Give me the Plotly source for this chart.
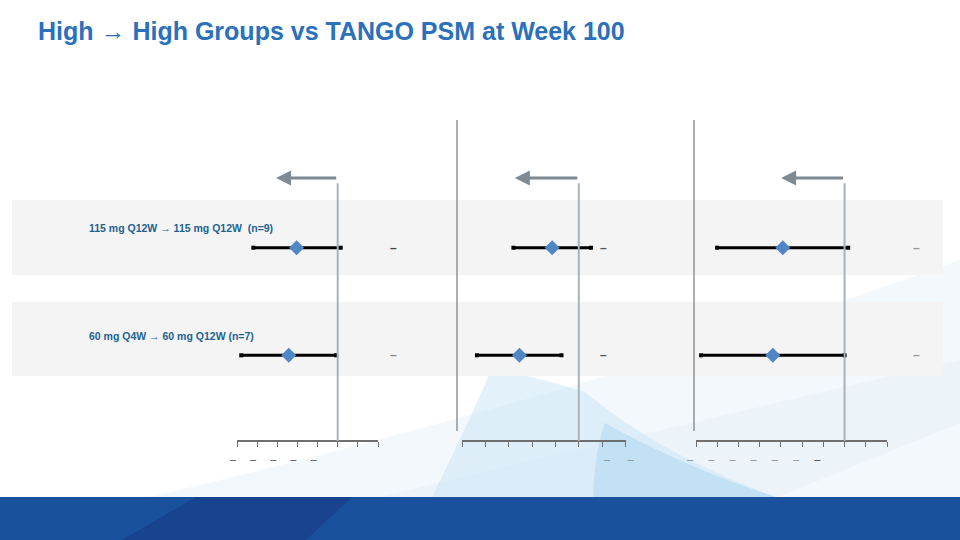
import plotly.graph_objects as go

W, H = 960, 540
def PX(x): return x / W
def PY(y): return 1 - y / H

# ---------------- data ----------------
title = "High \u2192 High Groups vs TANGO PSM at Week 100"
row_labels = ["115 mg Q12W \u2192 115 mg Q12W  (n=9)",
              "60 mg Q4W \u2192 60 mg Q12W (n=7)"]
row_pos = [0, 1]

# panel 1
p1_est = [-20.4, -24.3]
p1_lo = [-41.9, -47.9]
p1_hi = [1.5, -0.8]
# panel 2 (reversed axis)
p2_est = [5.7, 12.7]
p2_lo = [14.0, 21.8]
p2_hi = [-2.6, 3.7]
# panel 3
p3_est = [-29.1, -33.8]
p3_lo = [-60.1, -67.6]
p3_hi = [1.7, 0.0]

p1_ticks = [-50, -40, -30, -20, -10, 0, 10, 20]
p1_ticktext = ["\u2013", "\u2013", "\u2013", "\u2013", "\u2013", "", "", ""]
p2_ticks = [25, 20, 15, 10, 5, 0, -5, -10]
p2_ticktext = ["", "", "", "", "", "", "\u2013", "\u2013"]
p3_ticks = [-70, -60, -50, -40, -30, -20, -10, 0, 10, 20]
p3_ticktext = ["\u2013"] * 6 + ["<span style='color:#333'>\u2013</span>", "", "", ""]

arrow_tips = [-30.6, 13.7, -29.9]
value_text = ["\u2013", "\u2013"]

# ---------------- figure ----------------
fig = go.Figure()

panels = [
    ("x", p1_est, p1_lo, p1_hi),
    ("x2", p2_est, p2_lo, p2_hi),
    ("x3", p3_est, p3_lo, p3_hi),
]

shapes = []
def bgpath(path, color):
    shapes.append(dict(type="path", xref="paper", yref="paper", layer="below",
                       path=path, fillcolor=color, line=dict(width=0)))

def P(pts):
    return "M " + " L ".join(f"{PX(x)} {PY(y)}" for x, y in pts) + " Z"

# background wash (decorative)
bgpath(f"M {PX(150)} {PY(497)} Q {PX(600)} {PY(390)} {PX(960)} {PY(260)} "
       f"L {PX(960)} {PY(497)} Z", "rgba(232,242,250,0.5)")
bgpath(f"M {PX(380)} {PY(497)} Q {PX(700)} {PY(420)} {PX(960)} {PY(360)} "
       f"L {PX(960)} {PY(497)} Z", "rgba(226,238,248,0.4)")
bgpath(f"M {PX(432)} {PY(497)} Q {PX(470)} {PY(420)} {PX(492)} {PY(368)} "
       f"Q {PX(540)} {PY(378)} {PX(585)} {PY(392)} Q {PX(660)} {PY(455)} {PX(776)} {PY(497)} Z",
       "rgba(200,228,245,0.5)")
bgpath(f"M {PX(593)} {PY(497)} Q {PX(595)} {PY(450)} {PX(605)} {PY(423)} "
       f"Q {PX(690)} {PY(470)} {PX(776)} {PY(497)} Z",
       "rgba(170,214,240,0.5)")
bgpath(P([(778, 497), (960, 423), (960, 497)]), "rgba(243,248,252,0.9)")
# bottom band
shapes.append(dict(type="rect", xref="paper", yref="paper", layer="below",
                   x0=0, x1=1, y0=0, y1=PY(497),
                   fillcolor="#1a519c", line=dict(width=0)))
bgpath(P([(122, 540), (196, 497), (352, 497), (306, 540)]), "#17438f")
# row bands
for (t, b) in [(200, 275), (302, 376)]:
    shapes.append(dict(type="rect", xref="paper", yref="paper", layer="below",
                       x0=PX(12), x1=PX(943), y0=PY(b), y1=PY(t),
                       fillcolor="rgba(244,244,244,0.97)", line=dict(width=0)))
# panel separators
for xs in [457, 694]:
    shapes.append(dict(type="line", xref="paper", yref="paper",
                       x0=PX(xs), x1=PX(xs), y0=PY(120), y1=PY(431),
                       line=dict(color="#8e9499", width=1.5)))
# reference lines at zero
for ax, *_ in panels:
    shapes.append(dict(type="line", xref=ax, yref="y", x0=0, x1=0, y0=-0.6, y1=1.797,
                       line=dict(color="#aab1b7", width=2)))

for ax, est, lo, hi in panels:
    for i, r in enumerate(row_pos):
        fig.add_trace(go.Scatter(x=[lo[i], hi[i]], y=[r, r], xaxis=ax, yaxis="y",
                                 mode="lines+markers",
                                 line=dict(color="black", width=3),
                                 marker=dict(symbol="square", size=4, color="black"),
                                 showlegend=False, hoverinfo="skip"))
    fig.add_trace(go.Scatter(x=est, y=row_pos, xaxis=ax, yaxis="y", mode="markers",
                             marker=dict(symbol="diamond", size=11.5, color="#4f86c6"),
                             showlegend=False))

annotations = []
annotations.append(dict(text=f"<b>{title}</b>", xref="paper", yref="paper",
                        x=PX(36), y=PY(31), xanchor="left", yanchor="middle",
                        showarrow=False,
                        font=dict(family="Liberation Sans, Arial", size=25, color="#2a70bb")))
for i, r in enumerate(row_pos):
    annotations.append(dict(text=f"<b>{row_labels[i]}</b>", xref="paper", yref="y",
                            x=PX(87), y=r - 0.183, xanchor="left", yanchor="middle",
                            showarrow=False,
                            font=dict(family="Liberation Sans, Arial", size=10.5, color="#1d6391")))
    for vx, col in [(393, "#444" if i == 0 else "#888"), (603, "#555"), (916, "#999")]:
        annotations.append(dict(text=f"<b>{value_text[i]}</b>", xref="paper", yref="y",
                                x=PX(vx), y=r, xanchor="center", yanchor="middle",
                                showarrow=False,
                                font=dict(family="Liberation Sans, Arial", size=12, color=col)))
for (ax, *_), tip in zip(panels, arrow_tips):
    annotations.append(dict(text="", xref=ax, yref="y", x=tip, y=-0.648,
                            axref=ax, ayref="y", ax=0.0, ay=-0.648,
                            showarrow=True, arrowhead=2, arrowsize=1, arrowwidth=3,
                            arrowcolor="#7d8a93"))

def xax(domain, rng, ticks, text, shift, color):
    return dict(domain=domain, range=rng, anchor="free", position=PY(441),
                automargin=False,
                showline=True, linecolor="#6f6f6f", linewidth=1.5,
                ticks="outside", ticklen=5, tickwidth=1.2, tickcolor="#6f6f6f",
                tickvals=ticks, ticktext=text, ticklabelshift=shift,
                ticklabelstandoff=3,
                tickfont=dict(family="Liberation Sans, Arial", size=11, color=color),
                showgrid=False, zeroline=False, fixedrange=True)

fig.update_layout(
    template="none",
    width=W, height=H, autosize=False,
    margin=dict(l=0, r=0, t=0, b=0, pad=0),
    paper_bgcolor="white", plot_bgcolor="rgba(0,0,0,0)",
    xaxis=xax([PX(237), PX(378)], [-50, 20], p1_ticks, p1_ticktext, -4, "#444"),
    xaxis2=xax([PX(462), PX(625.5)], [25, -10], p2_ticks, p2_ticktext, -5, "#888"),
    xaxis3=xax([PX(696), PX(887)], [-70, 20], p3_ticks, p3_ticktext, -6, "#888"),
    yaxis=dict(domain=[0, 1], range=[2.7165, -2.302], visible=False,
               automargin=False, fixedrange=True),
    shapes=shapes, annotations=annotations,
    showlegend=False,
)

fig.write_html("out.html", config={"displayModeBar": False})
